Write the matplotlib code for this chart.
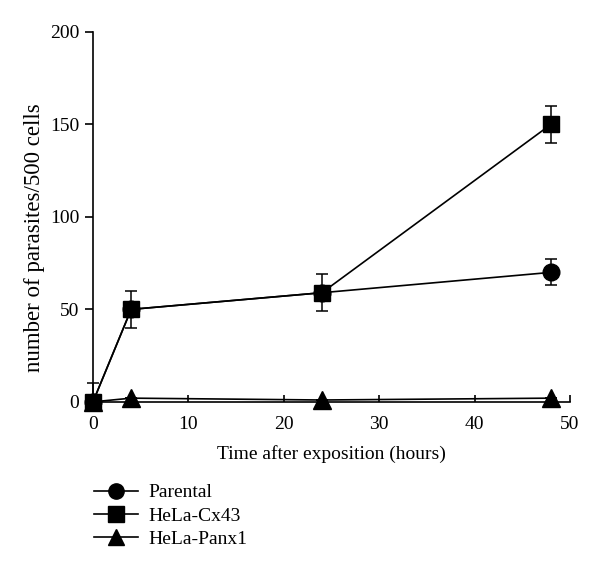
import matplotlib.pyplot as plt
from matplotlib.lines import Line2D

plt.rcParams['font.family'] = ['Liberation Serif', 'DejaVu Serif']

hours = [0, 4, 24, 48]
parental = [0, 50, 59, 70]
parental_err = [0, 0, 0, 7]
cx43 = [0, 50, 59, 150]
cx43_err_low = [0, 10, 10, 10]
cx43_err_high = [10, 10, 10, 10]
panx1 = [0, 2, 1, 2]
panx1_err = [0, 0, 0, 0]

fig = plt.figure(figsize=(6, 5.7), dpi=100)
ax = fig.add_axes([0.155, 0.295, 0.795, 0.649])

series = [
    ('Parental', parental, parental_err, 'o', 12),
    ('HeLa-Cx43', cx43, [cx43_err_low, cx43_err_high], 's', 12),
    ('HeLa-Panx1', panx1, panx1_err, '^', 13),
]
handles = []
for name, vals, err, mk, ms in series:
    ax.errorbar(hours, vals, yerr=err, color='black', marker=mk, markersize=ms,
                linewidth=1.2, elinewidth=1.1, capsize=4, capthick=1.1,
                clip_on=False, zorder=3)
    handles.append(Line2D([], [], color='black', marker=mk, markersize=ms - 1,
                          linewidth=1.2, label=name))

ax.set_xlim(0, 50)
ax.set_ylim(0, 200)
ax.set_xticks([0, 10, 20, 30, 40, 50])
ax.set_yticks([0, 50, 100, 150, 200])
ax.spines['top'].set_visible(False)
ax.spines['right'].set_visible(False)
ax.spines['left'].set_linewidth(1.2)
ax.spines['bottom'].set_linewidth(1.2)
ax.tick_params(axis='x', direction='in', length=5, width=1.2, labelsize=14, pad=10)
ax.tick_params(axis='y', direction='out', length=6, width=1.2, labelsize=14, pad=4)
ax.set_xlabel('Time after exposition (hours)', fontsize=14, labelpad=9)
ax.set_ylabel('number of parasites/500 cells', fontsize=16.5)
ax.yaxis.set_label_coords(-0.1, 0.443)

fig.legend(handles=handles, loc='upper left', bbox_to_anchor=(0.143, 0.165),
           frameon=False, fontsize=14, handlelength=2.3, labelspacing=0.3,
           handletextpad=0.5, borderaxespad=0)

fig.savefig('out.png', dpi=100)
